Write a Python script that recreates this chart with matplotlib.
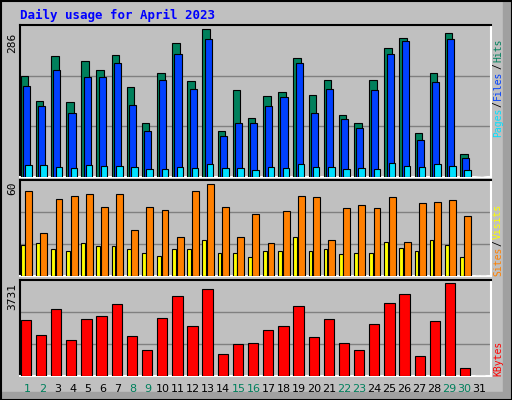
import matplotlib
matplotlib.use("Agg")
import matplotlib.pyplot as plt
from matplotlib.patches import Rectangle

days = list(range(1, 32))
weekend_days = [1, 2, 8, 9, 15, 16, 22, 23, 29, 30]
hits = [195,148,234,146,224,208,236,175,105,201,259,185,286,90,168,115,156,164,230,158,187,121,104,187,249,269,86,201,278,45,0]
files = [177,138,208,123,193,193,220,140,90,187,239,171,267,80,105,104,138,154,220,123,171,113,94,168,239,263,71,183,267,36,0]
pages = [24,24,20,18,24,22,22,20,16,16,20,18,26,18,18,14,20,18,26,20,20,16,18,16,28,22,20,26,22,14,0]
visits = [55.4,28,50,52,53.5,45,53.5,30,45,43,25.4,55.4,60,45,25.4,40.4,21.5,42.4,52,51.5,23.5,44.3,46.3,44.3,51.5,22,47.6,48.3,49.6,39,0]
sites = [20,21.5,17.6,16.3,21.5,19.6,19.6,17.6,15,13,17.6,17.6,23.5,15,15,12.4,16.3,16.3,25.4,16.3,17.6,14.3,15,15,22,18.3,16.3,23.5,20,12.4,0]
kbytes = [2255,1640,2665,1435,2296,2419,2870,1599,1025,2337,3198,2009,3485,861,1271,1312,1845,2009,2788,1558,2296,1312,1025,2091,2911,3280,820,2214,3731,328,0]

W, H = 512, 400
fig = plt.figure(figsize=(W/100, H/100), dpi=100, facecolor="#c0c0c0")
mono = "DejaVu Sans Mono"

def ax_px(x0, y0, x1, y1):
    return fig.add_axes([x0/W, 1-y1/H, (x1-x0)/W, (y1-y0)/H])

fig.add_artist(Rectangle((503/W, 0), 9/W, 1, transform=fig.transFigure, color="#a0a0a0"))
fig.add_artist(Rectangle((0, 0), 1, 8/H, transform=fig.transFigure, color="#a0a0a0"))
fig.add_artist(Rectangle((0.5/W, 0.5/H), (W-1)/W, (H-1)/H, transform=fig.transFigure,
                         fill=False, ec="black", lw=1.5))

fig.text(20/W, 1-15/H, "Daily usage for April 2023", color="#0000ff", fontsize=9,
         fontweight="bold", family=mono, va="center")

X0, X1 = 20, 491
n = 31
slot = (X1 - X0 - 4) / n

def setup(ax, ymax):
    ax.set_facecolor("#c0c0c0")
    ax.set_xlim(0, n + 0.1)
    ax.set_ylim(0, ymax)
    ax.set_xticks([]); ax.set_yticks([])
    for s in ax.spines.values():
        s.set_color("white"); s.set_linewidth(1.5)
    ax.spines["left"].set_color("black")
    ax.spines["top"].set_color("black")
    for g in (ymax/3, 2*ymax/3):
        ax.axhline(g, color="#808080", lw=1, zorder=0)

x = [d - 1 + 0.05 for d in days]
ek = dict(edgecolor="black", linewidth=0.8, align="edge", zorder=3)

ax1 = ax_px(X0, 25, X1, 177)
setup(ax1, 286*151.7/147.4)
ax1.bar(x, hits, width=0.5, color="#00805c", **ek)
ax1.bar([v+0.15 for v in x], files, width=0.47, color="#0040ff", **ek)
ax1.bar([v+0.3 for v in x], pages, width=0.42, color="#00e0ff", **ek)
fig.text(12/W, 1-43/H, "286", rotation=90, fontsize=8, family=mono, ha="center", va="center")

ax2 = ax_px(X0, 180, X1, 276)
setup(ax2, 62.6)
ax2.bar(x, sites, width=0.25, color="#ffff00", **ek)
ax2.bar([v+0.3 for v in x], visits, width=0.45, color="#ff8000", **ek)
fig.text(12/W, 1-188/H, "60", rotation=90, fontsize=8, family=mono, ha="center", va="center")

ax3 = ax_px(X0, 280, X1, 376)
setup(ax3, 3731*1.03)
ax3.bar(x, kbytes, width=0.68, color="#ff0000", **ek)
fig.text(12/W, 1-297/H, "3731", rotation=90, fontsize=8, family=mono, ha="center", va="center")

for d in days:
    col = "#00805c" if d in weekend_days else "black"
    fig.text((X0 + (d-0.5)*slot)/W, 1-389/H, str(d), color=col, fontsize=8,
             ha="center", va="center", family="DejaVu Sans")

renderer = fig.canvas.get_renderer()

def vlabel(parts, xpx, ybot):
    y = ybot
    for txt, col in parts:
        t = fig.text(xpx/W, 1-y/H, txt, color=col, rotation=90, fontsize=7,
                     family=mono, ha="center", va="bottom")
        ext = t.get_window_extent(renderer)
        y -= ext.height + 1

vlabel([("Pages", "#00e0ff"), ("/", "black"), ("Files", "#0040ff"), ("/", "black"), ("Hits", "#00805c")], 498, 137)
vlabel([("Sites", "#ff8000"), ("/", "black"), ("Visits", "#ffff00")], 498, 276)
vlabel([("KBytes", "#ff0000")], 498, 376)

fig.savefig("out.png", dpi=100, facecolor=fig.get_facecolor())
